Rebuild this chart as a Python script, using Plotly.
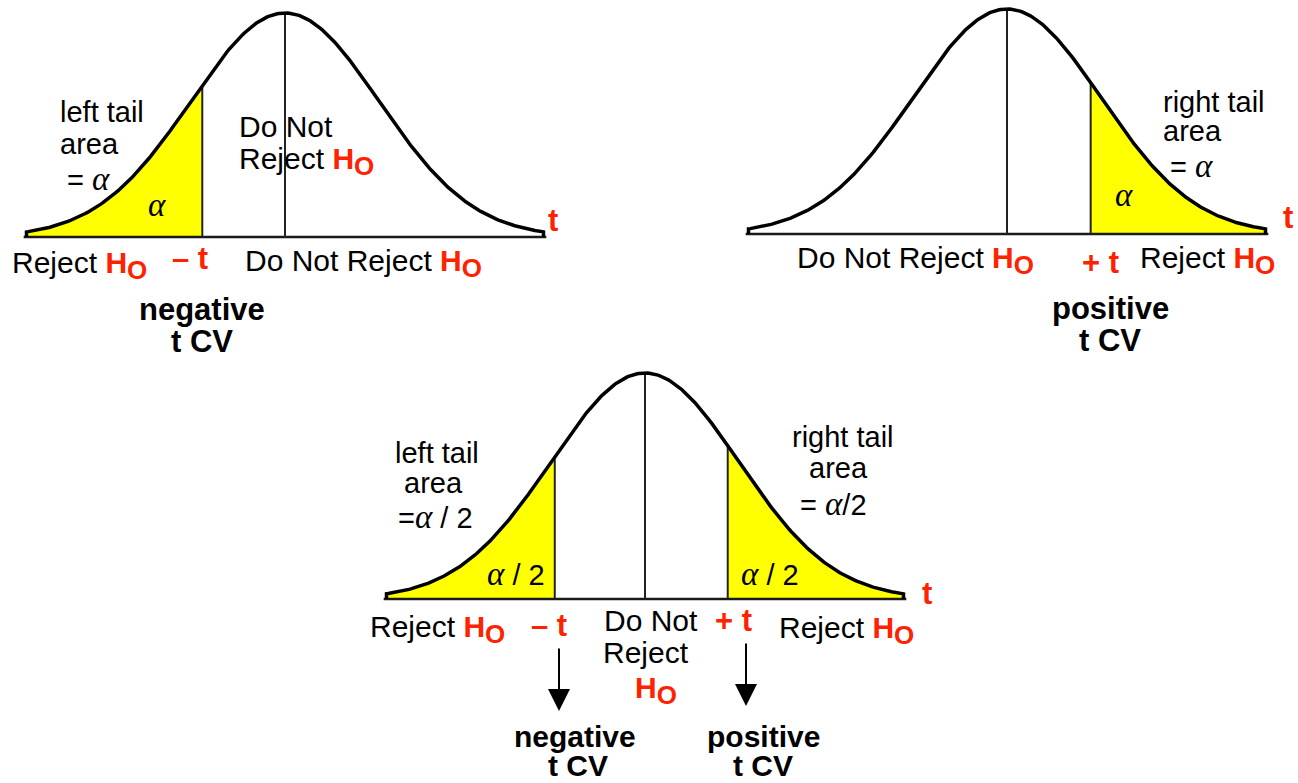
import numpy as np
import plotly.graph_objects as go

W, H = 1298, 783
RED = "#ff2200"
YELLOW = "#ffff00"
SANS = "Liberation Sans, Arial, Helvetica, sans-serif"

# critical values (sd units) shaded on each curve: left-tailed, right-tailed, two-tailed
crit_left = [-0.88, None, -0.96]
crit_right = [None, 0.89, 0.88]
tail_end = 2.75

# placement of each curve on the page (px): centre, baseline, px per sd, peak height, box
centre_px = [285, 1007, 645]
base_px = [237, 234, 599]
sd_px = [94, 94, 94]
peak_px = [224, 225, 226]
boxes = [(0, 640, 0, 360), (660, 1298, 0, 360), (340, 960, 360, 783)]


def pdf(z):
    return np.exp(-z ** 2 / 2) / np.sqrt(2 * np.pi)


fig = go.Figure()
axes = {}
for i in range(3):
    x0, x1, y0, y1 = boxes[i]
    cx, by, s, hp = centre_px[i], base_px[i], sd_px[i], peak_px[i]
    u = hp / pdf(0)
    sfx = "" if i == 0 else str(i + 1)
    axes["xaxis" + sfx] = dict(domain=[x0 / W, x1 / W], range=[(x0 - cx) / s, (x1 - cx) / s],
                               visible=False, anchor="y" + sfx, fixedrange=True)
    axes["yaxis" + sfx] = dict(domain=[1 - y1 / H, 1 - y0 / H], range=[(by - y1) / u, (by - y0) / u],
                               visible=False, anchor="x" + sfx, fixedrange=True)
    xr, yr = "x" + sfx, "y" + sfx

    # shaded rejection regions
    for c, side in ((crit_left[i], -1), (crit_right[i], 1)):
        if c is None:
            continue
        zz = np.linspace(c, side * tail_end, 80)
        fig.add_trace(go.Scatter(x=[c, *zz, side * tail_end], y=[0, *pdf(zz), 0], fill="toself",
                                 fillcolor=YELLOW, line=dict(width=0), mode="lines",
                                 xaxis=xr, yaxis=yr, hoverinfo="skip"))

    # axis line
    fig.add_trace(go.Scatter(x=[-tail_end - 0.03, tail_end + 0.03], y=[0, 0], mode="lines",
                             line=dict(color="#1a1a1a", width=2.5), xaxis=xr, yaxis=yr, hoverinfo="skip"))

    # centre and critical value lines
    for c in [0, crit_left[i], crit_right[i]]:
        if c is None:
            continue
        fig.add_trace(go.Scatter(x=[c, c], y=[0, pdf(c)], mode="lines",
                                 line=dict(color="#222222", width=2), xaxis=xr, yaxis=yr, hoverinfo="skip"))

    # the curve
    zz = np.linspace(-tail_end, tail_end, 300)
    fig.add_trace(go.Scatter(x=[-tail_end, *zz, tail_end], y=[0, *pdf(zz), 0], mode="lines",
                             line=dict(color="black", width=3.5), xaxis=xr, yaxis=yr, hoverinfo="skip"))

HO = '<span style="color:%s"><b>H<sub><span style="font-size:26px">O</span></sub></b></span>' % RED
ALPHA = '<span style="font-family:Liberation Serif;font-size:33px"><i>α</i></span>'


def lab(x, y, text, size=30, color="black", xa="center"):
    fig.add_annotation(x=x / W, y=1 - y / H, xref="paper", yref="paper", text=text, showarrow=False,
                       xanchor=xa, yanchor="middle", font=dict(size=size, color=color, family=SANS))


def red(t):
    return '<span style="color:%s"><b>%s</b></span>' % (RED, t)


# left-tailed test
lab(58, 112, "left tail", 29, xa="left")
lab(58, 144, "area", 29, xa="left")
lab(65, 179, "= " + ALPHA, 29, xa="left")
lab(157, 205, ALPHA, 29)
lab(237, 126, "Do Not", xa="left")
lab(237, 161, "Reject " + HO, xa="left")
lab(553, 220, red("t"), 31)
lab(10, 265, "Reject " + HO, xa="left")
lab(190, 258, red("– t"), 31)
lab(243, 263, "Do Not Reject " + HO, xa="left")
lab(202, 310, "<b>negative</b>", 31)
lab(202, 341, "<b>t CV</b>", 31)

# right-tailed test
lab(1161, 102, "right tail", 29, xa="left")
lab(1161, 131, "area", 29, xa="left")
lab(1168, 166, "= " + ALPHA, 29, xa="left")
lab(1124, 195, ALPHA, 29)
lab(1288, 217, red("t"), 31)
lab(795, 260, "Do Not Reject " + HO, xa="left")
lab(1100, 262, red("+ t"), 31)
lab(1138, 260, "Reject " + HO, xa="left")
lab(1110, 308, "<b>positive</b>", 31)
lab(1110, 340, "<b>t CV</b>", 31)

# two-tailed test
lab(437, 453, "left tail", 29)
lab(433, 483, "area", 29)
lab(435, 517, "=" + ALPHA + " / 2", 29)
lab(843, 437, "right tail", 29)
lab(838, 468, "area", 29)
lab(833, 504, "= " + ALPHA + "/2", 29)
lab(516, 574, ALPHA + " / 2", 29)
lab(770, 574, ALPHA + " / 2", 29)
lab(927, 593, red("t"), 31)
lab(368, 629, "Reject " + HO, xa="left")
lab(549, 625, red("– t"), 31)
lab(651, 620, "Do Not")
lab(646, 652, "Reject")
lab(656, 690, HO)
lab(733, 620, red("+ t"), 31)
lab(777, 630, "Reject " + HO, xa="left")
lab(575, 736, "<b>negative</b>", 30)
lab(578, 765, "<b>t CV</b>", 30)
lab(763, 736, "<b>positive</b>", 30)
lab(763, 765, "<b>t CV</b>", 30)

# arrows down to the critical values
for xa_, ytop, ytip in ((559, 647, 711), (746, 642, 706)):
    fig.add_annotation(x=xa_ / W, y=1 - ytip / H, ax=0, ay=-(ytip - ytop), xref="paper", yref="paper",
                       axref="pixel", ayref="pixel", text="", showarrow=True, arrowhead=2,
                       arrowsize=2.2, arrowwidth=2, arrowcolor="black")

fig.update_layout(width=W, height=H, margin=dict(l=0, r=0, t=0, b=0), showlegend=False,
                  plot_bgcolor="white", paper_bgcolor="white", **axes)
fig.write_html("out.html", config={"displayModeBar": False},
               post_script="document.body.style.margin='0';")
